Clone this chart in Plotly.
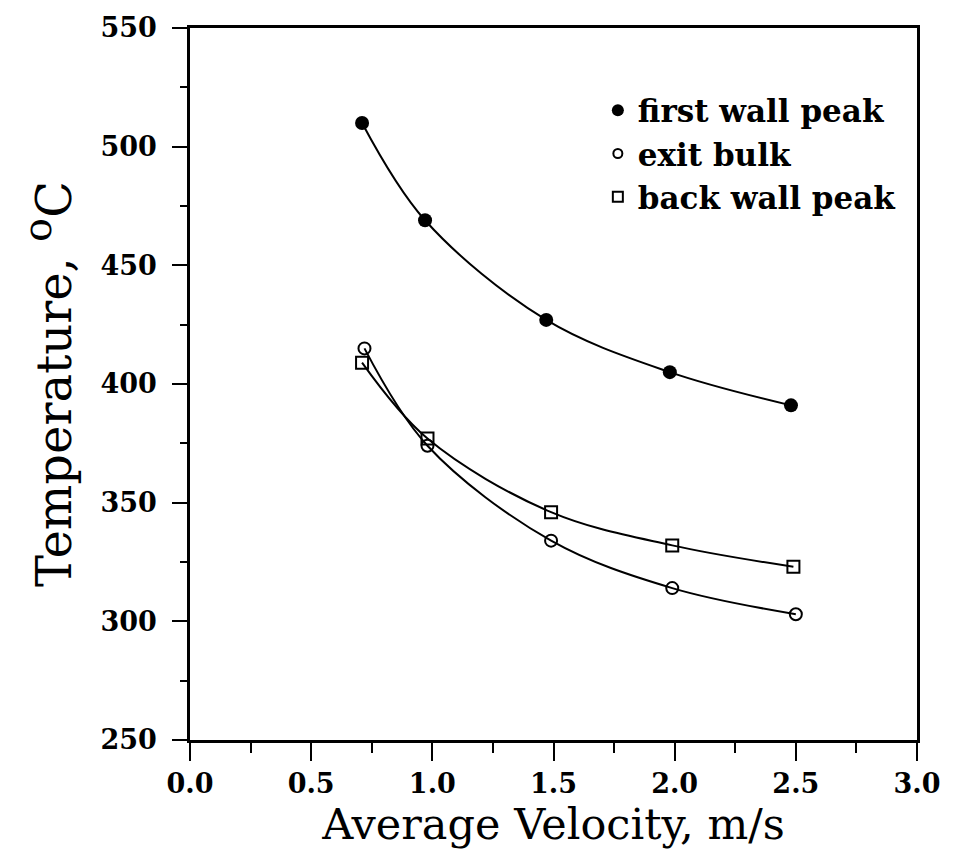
import plotly.graph_objects as go

# Data
vel_first = [0.71, 0.97, 1.47, 1.98, 2.48]
temp_first = [510, 469, 427, 405, 391]

vel_exit = [0.72, 0.98, 1.49, 1.99, 2.50]
temp_exit = [415, 374, 334, 314, 303]

vel_back = [0.71, 0.98, 1.49, 1.99, 2.49]
temp_back = [409, 377, 346, 332, 323]

x_ticks = [0.0, 0.5, 1.0, 1.5, 2.0, 2.5, 3.0]
y_ticks = [250, 300, 350, 400, 450, 500, 550]

FONT = "DejaVu Serif"
BLACK = "black"

fig = go.Figure()

line_style = dict(color=BLACK, width=2, shape="spline", smoothing=1.0)

fig.add_trace(go.Scatter(x=vel_first, y=temp_first, mode="lines+markers",
                         line=line_style, showlegend=False,
                         marker=dict(symbol="circle", size=14, color=BLACK)))
fig.add_trace(go.Scatter(x=vel_exit, y=temp_exit, mode="lines+markers",
                         line=line_style, showlegend=False,
                         marker=dict(symbol="circle-open", size=12, color=BLACK,
                                     line=dict(width=2, color=BLACK))))
fig.add_trace(go.Scatter(x=vel_back, y=temp_back, mode="lines+markers",
                         line=line_style, showlegend=False,
                         marker=dict(symbol="square-open", size=12, color=BLACK,
                                     line=dict(width=2, color=BLACK))))

# legend-only entries (markers only, as in the reference)
fig.add_trace(go.Scatter(x=[None], y=[None], mode="markers", name="first wall peak",
                         marker=dict(symbol="circle", size=12, color=BLACK)))
fig.add_trace(go.Scatter(x=[None], y=[None], mode="markers", name="exit bulk",
                         marker=dict(symbol="circle-open", size=9, color=BLACK,
                                     line=dict(width=2, color=BLACK))))
fig.add_trace(go.Scatter(x=[None], y=[None], mode="markers", name="back wall peak",
                         marker=dict(symbol="square-open", size=10, color=BLACK,
                                     line=dict(width=2, color=BLACK))))

fig.update_layout(
    width=953, height=858,
    margin=dict(l=190, r=36, t=24, b=118),
    paper_bgcolor="white", plot_bgcolor="white",
    font=dict(family=FONT, color=BLACK),
    legend=dict(x=0.561, y=0.922, xanchor="left", yanchor="top",
                bgcolor="rgba(0,0,0,0)", borderwidth=0,
                font=dict(family=FONT, size=31, color=BLACK, weight="bold"),
                itemwidth=30, tracegroupgap=0),
    xaxis=dict(
        range=[0, 3.0], tickvals=x_ticks, ticktext=[f"{v:.1f}" for v in x_ticks],
        showgrid=False, zeroline=False,
        showline=True, linecolor=BLACK, linewidth=2.5, mirror=True,
        ticks="outside", ticklen=18, tickwidth=2, tickcolor=BLACK,
        minor=dict(dtick=0.25, tick0=0, ticks="outside", ticklen=10, tickwidth=2, tickcolor=BLACK),
        tickfont=dict(family=FONT, size=27, color=BLACK, weight="bold"),
        title=dict(text="Average Velocity, m/s", font=dict(family=FONT, size=43, color=BLACK),
                   standoff=10),
    ),
    yaxis=dict(
        range=[250, 550], tickvals=y_ticks,
        showgrid=False, zeroline=False,
        showline=True, linecolor=BLACK, linewidth=2.5, mirror=True,
        ticks="outside", ticklen=15, tickwidth=2, tickcolor=BLACK,
        minor=dict(dtick=25, tick0=250, ticks="outside", ticklen=7, tickwidth=2, tickcolor=BLACK),
        tickfont=dict(family=FONT, size=27, color=BLACK, weight="bold"),
        ticklabelstandoff=10,
        title=dict(text="Temperature, <sup><span style='font-size:40px'>o</span></sup>C",
                   font=dict(family=FONT, size=48, color=BLACK),
                   standoff=14),
    ),
)

fig.write_html("out.html")
